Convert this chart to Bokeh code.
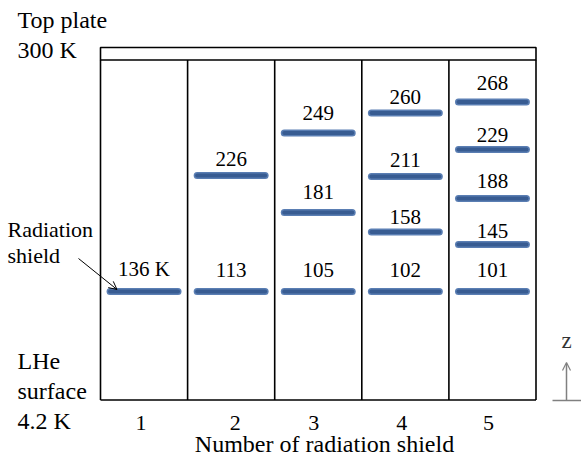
from bokeh.plotting import figure
from bokeh.models import Range1d, Arrow, OpenHead, ColumnDataSource
from bokeh.core.properties import value
from bokeh.embed import file_html
from bokeh.resources import INLINE

# ---------------- data ----------------
n_shields = [1, 2, 3, 4, 5]
temps = [[136], [113, 226], [105, 181, 249], [102, 158, 211, 260], [101, 145, 188, 229, 268]]
# height of each shield above the LHe surface (px units of the diagram)
shield_z = [[108.5], [108.5, 224.5], [108.5, 187.5, 267.0],
            [108.5, 168.0, 223.5, 287.0], [108.5, 155.5, 201.5, 250.5, 298.0]]
# baseline height of each temperature label
label_z = [[124.0], [122.8, 233.8], [122.8, 201.5, 280.5],
           [122.8, 176.2, 233.5, 296.2], [122.8, 162.2, 211.8, 257.8, 310.5]]
tick_labels = ["1", "2", "3", "4", "5"]
top_plate_z = [340.0, 352.5]

FONT = value("Liberation Serif")
YOFF = -7  # screen-pixel correction of the text baseline
TICK_DX = [-3, 4, -4.5, -3.5, -4]  # screen-pixel nudges of the tick labels, as in the picture

# layout helpers (reference-pixel -> data)
COLW = 87.1
def X(px):
    return 0.5 + (px - 100.0) / COLW
def Y(py):
    return 399.5 - py

W, H = 581, 467
p = figure(width=W, height=H, x_range=Range1d(X(0), X(W)), y_range=Range1d(Y(H), Y(0)),
           toolbar_location=None, output_backend="svg", min_border=0,
           x_axis_location=None, y_axis_location=None, outline_line_color=None)
p.grid.visible = False
p.background_fill_color = "white"
p.border_fill_color = "white"

# ---------------- box ----------------
x_left = n_shields[0] - 0.5
x_right = n_shields[-1] + 0.5
p.quad(left=[x_left], right=[x_right], bottom=[top_plate_z[0]], top=[top_plate_z[1]],
       fill_color="white", line_color="black", line_width=1.6)
div_x = [n - 0.5 for n in n_shields] + [x_right]
p.multi_line(xs=[[x, x] for x in div_x], ys=[[0, top_plate_z[0]] for _ in div_x],
             line_color="black", line_width=1.6)
p.line(x=[x_left, x_right], y=[0, 0], line_color="black", line_width=1.6)

# ---------------- shields ----------------
bx, bz, lx, lz, lt = [], [], [], [], []
for n, ts, zs, lzs in zip(n_shields, temps, shield_z, label_z):
    for t, z, l in zip(ts, zs, lzs):
        bx.append(n); bz.append(z)
        lx.append(n); lz.append(l)
        lt.append(f"{t} K" if n == 1 else str(t))
src = ColumnDataSource(dict(x0=[x - 0.39 for x in bx], x1=[x + 0.39 for x in bx], z=bz))
p.segment(x0="x0", y0="z", x1="x1", y1="z", source=src, line_width=7,
          line_color="#5a7eb3", line_cap="round")
p.segment(x0="x0", y0="z", x1="x1", y1="z", source=src, line_width=4,
          line_color="#385c92", line_cap="round")
p.text(x=lx, y=lz, text=lt, text_font=FONT, text_font_size="21px", text_align="center",
       text_baseline="alphabetic", text_color="black", y_offset=YOFF)

# ---------------- tick labels & axis title ----------------
tsrc = ColumnDataSource(dict(x=n_shields, y=[Y(429)] * len(n_shields), t=tick_labels, dx=TICK_DX))
p.text(x="x", y="y", text="t", x_offset="dx", source=tsrc,
       text_font=FONT, text_font_size="22px", text_align="center", text_baseline="alphabetic",
       y_offset=YOFF)
p.text(x=[X(324)], y=[Y(450)], text=["Number of radiation shield"], text_font=FONT,
       text_font_size="24px", text_align="center", text_baseline="alphabetic", y_offset=YOFF)

# ---------------- side labels ----------------
p.text(x=[X(17)] * 2, y=[Y(26), Y(56)], text=["Top plate", "300 K"], text_font=FONT,
       text_font_size="24px", text_align="left", text_baseline="alphabetic", y_offset=YOFF)
p.text(x=[X(17)] * 3, y=[Y(367), Y(397), Y(427)], text=["LHe", "surface", "4.2 K"], text_font=FONT,
       text_font_size="24px", text_align="left", text_baseline="alphabetic", y_offset=YOFF)
p.text(x=[X(7)] * 2, y=[Y(236), Y(262)], text=["Radiation", "shield"], text_font=FONT,
       text_font_size="22px", text_align="left", text_baseline="alphabetic", y_offset=YOFF)
p.add_layout(Arrow(end=OpenHead(size=8, line_width=1, line_color="black"),
                   x_start=X(78), y_start=Y(258), x_end=X(116.5), y_end=Y(289),
                   line_color="black", line_width=1))

# ---------------- z direction marker ----------------
p.line(x=[X(552), X(581)], y=[Y(400), Y(400)], line_color="#808080", line_width=1.5)
p.add_layout(Arrow(end=OpenHead(size=8, line_width=1.2, line_color="#808080"),
                   x_start=X(566), y_start=Y(400), x_end=X(566), y_end=Y(362),
                   line_color="#808080", line_width=1.5))
p.text(x=[X(566)], y=[Y(347)], text=["z"], text_font=FONT, text_font_size="23px",
       text_align="center", text_baseline="alphabetic", text_color="#333333", y_offset=YOFF)

open("out.html", "w").write(file_html(p, INLINE))
